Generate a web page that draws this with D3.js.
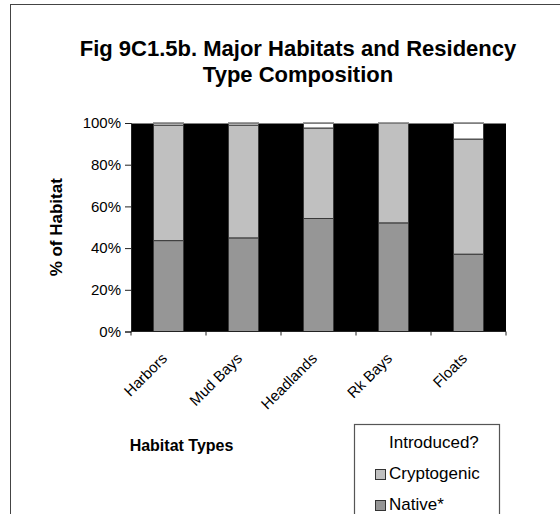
<!DOCTYPE html>
<html>
<head>
<meta charset="utf-8">
<script src="https://cdn.jsdelivr.net/npm/d3@7"></script>
<style>
  html, body { margin: 0; padding: 0; background: #fff; }
  svg { display: block; font-family: Arial, "Liberation Sans", sans-serif; }
</style>
</head>
<body>
<svg id="chart" width="560" height="514"></svg>
<script>
// Habitat categories and percentage composition of each residency type
const habitats = ["Harbors", "Mud Bays", "Headlands", "Rk Bays", "Floats"];
const native = [43.6, 44.9, 54.2, 52.1, 37.1];
const cryptogenic = [55.4, 54.1, 43.4, 47.9, 55.2];
const introduced = [1.0, 1.0, 2.4, 0.0, 7.7];
const yTicks = [0, 20, 40, 60, 80, 100];

const seriesNames = ["Native*", "Cryptogenic", "Introduced?"];
const seriesColors = ["#969696", "#c0c0c0", "#ffffff"];

const svg = d3.select("#chart");

// chart frame (runs off the right and bottom edges)
svg.append("rect")
  .attr("x", 10.5).attr("y", 4.5)
  .attr("width", 600).attr("height", 600)
  .attr("fill", "#fff").attr("stroke", "#444").attr("stroke-width", 1);

// title
const title = svg.append("text")
  .attr("text-anchor", "middle")
  .attr("font-weight", "bold")
  .attr("font-size", 22)
  .attr("fill", "#000");
title.append("tspan").attr("x", 298).attr("y", 56).text("Fig 9C1.5b. Major Habitats and Residency");
title.append("tspan").attr("x", 298).attr("y", 82).text("Type Composition");

const plot = { left: 131, right: 506, top: 123, bottom: 331.5 };

const x = d3.scaleBand()
  .domain(habitats)
  .range([plot.left, plot.right])
  .paddingInner(0.6)
  .paddingOuter(0.3);

const y = d3.scaleLinear()
  .domain([0, 100])
  .range([plot.bottom, plot.top]);

// plot background
svg.append("rect")
  .attr("x", plot.left).attr("y", plot.top)
  .attr("width", plot.right - plot.left)
  .attr("height", plot.bottom - plot.top)
  .attr("fill", "#000");

// stacked data
const rows = habitats.map((h, i) => ({
  habitat: h,
  "Native*": native[i],
  "Cryptogenic": cryptogenic[i],
  "Introduced?": introduced[i]
}));
const stacked = d3.stack().keys(seriesNames)(rows);

svg.append("g")
  .selectAll("g")
  .data(stacked)
  .join("g")
  .attr("fill", (d, i) => seriesColors[i])
  .selectAll("rect")
  .data(d => d.filter(s => s[1] - s[0] > 0))
  .join("rect")
  .attr("x", d => x(d.data.habitat))
  .attr("width", x.bandwidth())
  .attr("y", d => y(d[1]))
  .attr("height", d => y(d[0]) - y(d[1]))
  .attr("stroke", "#3a3a3a")
  .attr("stroke-width", 1);

// plot top edge
svg.append("line")
  .attr("x1", plot.left).attr("x2", plot.right)
  .attr("y1", plot.top + 0.5).attr("y2", plot.top + 0.5)
  .attr("stroke", "#808080");

// y axis
const yAxis = d3.axisLeft(y)
  .tickValues(yTicks)
  .tickFormat(d => d + "%")
  .tickSize(6)
  .tickPadding(4);
const gy = svg.append("g")
  .attr("transform", `translate(${plot.left},0)`)
  .call(yAxis);
gy.select(".domain").attr("stroke", "#222");
gy.selectAll(".tick line").attr("stroke", "#222");
gy.selectAll(".tick text")
  .attr("font-size", 15)
  .attr("font-family", "Arial, 'Liberation Sans', sans-serif")
  .attr("fill", "#000");

// x axis: ticks at category boundaries
const xAxisLine = svg.append("g");
xAxisLine.append("line")
  .attr("x1", plot.left).attr("x2", plot.right)
  .attr("y1", plot.bottom).attr("y2", plot.bottom)
  .attr("stroke", "#222");
const boundaries = d3.range(habitats.length + 1).map(i => plot.left + i * (plot.right - plot.left) / habitats.length);
xAxisLine.selectAll("line.tk")
  .data(boundaries)
  .join("line")
  .attr("class", "tk")
  .attr("x1", d => d).attr("x2", d => d)
  .attr("y1", plot.bottom).attr("y2", plot.bottom + 4)
  .attr("stroke", "#222");

// rotated category labels
svg.append("g")
  .selectAll("text")
  .data(habitats)
  .join("text")
  .attr("transform", d => `translate(${x(d) + x.bandwidth() / 2 - 8},352) rotate(-45)`)
  .attr("text-anchor", "end")
  .attr("dy", "0.71em")
  .attr("font-size", 15)
  .attr("fill", "#000")
  .text(d => d);

// axis titles
svg.append("text")
  .attr("transform", `translate(62,${(plot.top + plot.bottom) / 2}) rotate(-90)`)
  .attr("text-anchor", "middle")
  .attr("font-weight", "bold")
  .attr("font-size", 17)
  .attr("fill", "#000")
  .text("% of Habitat");

svg.append("text")
  .attr("x", 181.5).attr("y", 451)
  .attr("text-anchor", "middle")
  .attr("font-weight", "bold")
  .attr("font-size", 16)
  .attr("fill", "#000")
  .text("Habitat Types");

// legend (series listed from the top of the stack down)
const legend = svg.append("g");
legend.append("rect")
  .attr("x", 354.5).attr("y", 424.5)
  .attr("width", 145).attr("height", 200)
  .attr("fill", "#fff").attr("stroke", "#555").attr("stroke-width", 1.2);

const legendOrder = seriesNames.slice().reverse();
const legendColors = seriesColors.slice().reverse();
const items = legend.selectAll("g.item")
  .data(legendOrder)
  .join("g")
  .attr("class", "item")
  .attr("transform", (d, i) => `translate(375,${438 + i * 31})`);
items.append("rect")
  .attr("x", 0.5).attr("y", 0.5)
  .attr("width", 10).attr("height", 10)
  .attr("fill", (d, i) => legendColors[i])
  .attr("stroke", (d, i) => i === 0 ? "none" : "#333");
items.append("text")
  .attr("x", 14).attr("y", 10)
  .attr("font-size", 17)
  .attr("fill", "#000")
  .text(d => d);
</script>
</body>
</html>
